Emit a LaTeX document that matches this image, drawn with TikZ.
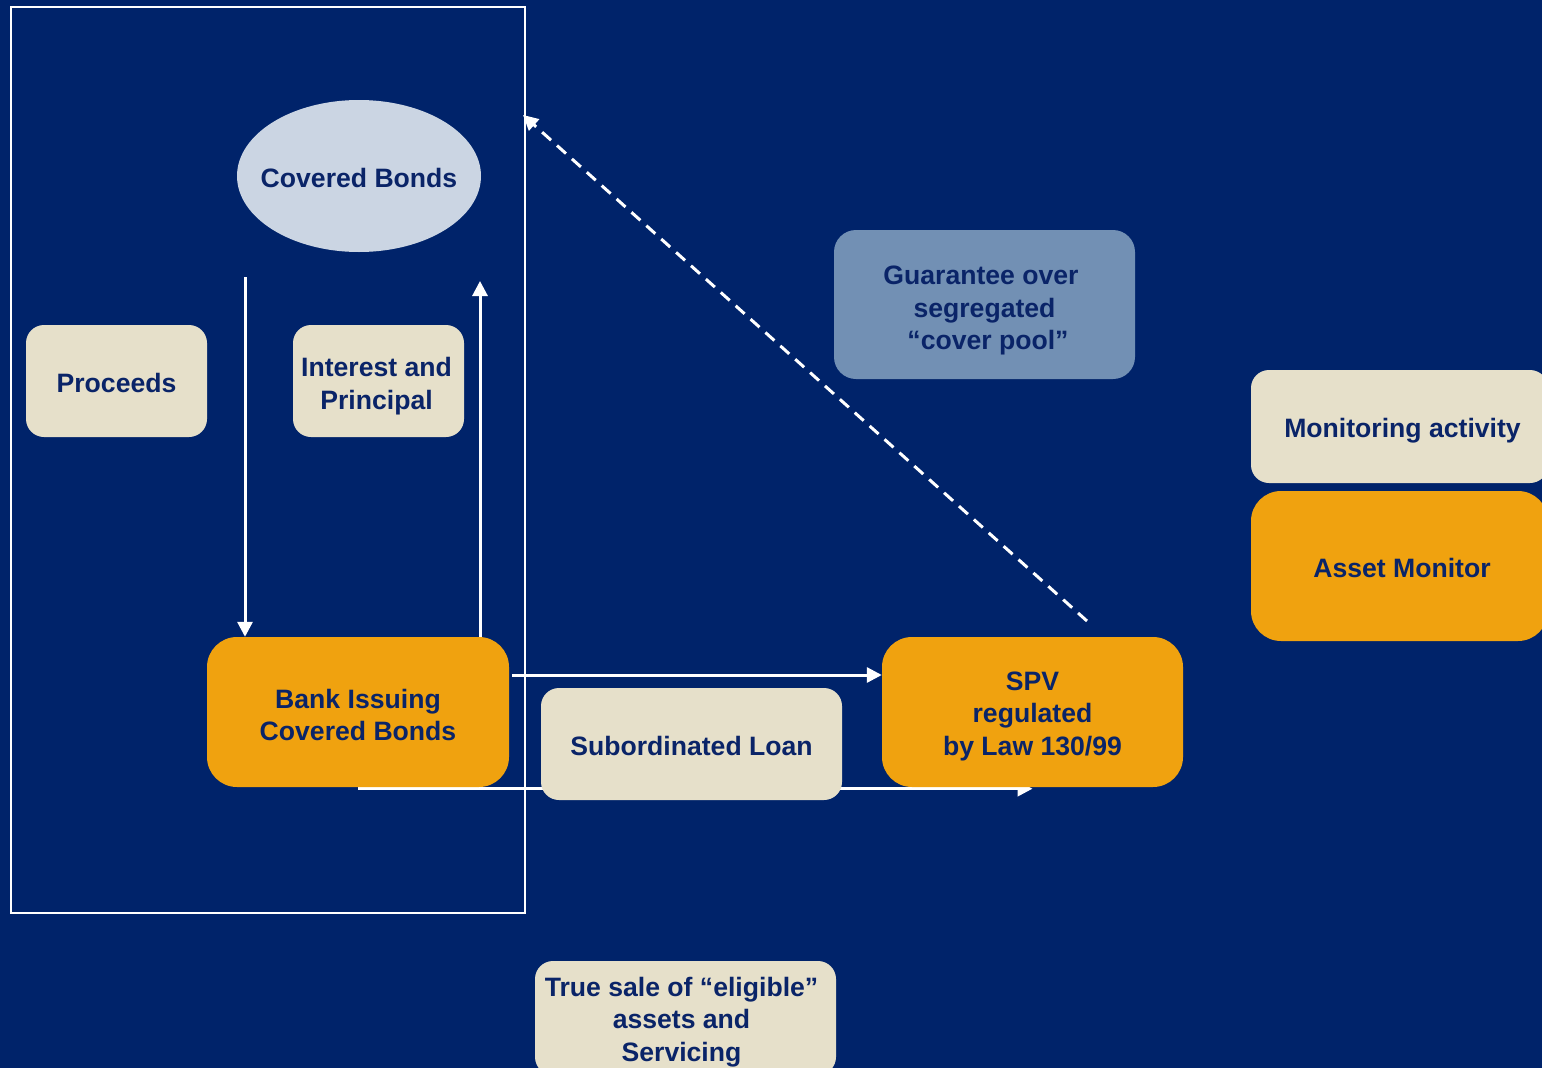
\documentclass[tikz,border=0pt]{standalone}
\usepackage{fontspec}
\setmainfont{Liberation Sans}
\usetikzlibrary{shapes.geometric,arrows.meta}
\definecolor{bgnavy}{HTML}{00236A}
\definecolor{txtnavy}{HTML}{0A2468}
\definecolor{beige}{HTML}{E6E0CA}
\definecolor{orng}{HTML}{F0A20F}
\definecolor{pale}{HTML}{CBD5E3}
\definecolor{steel}{HTML}{7290B4}
\pgfdeclarelayer{behind}
\pgfsetlayers{behind,main}
\tikzset{
  lbl/.style={font=\fontsize{26.6}{32.5}\selectfont\bfseries, text=txtnavy, align=center, inner sep=0pt},
  beigebox/.style={fill=beige, rounded corners=18pt, inner sep=0pt},
  orangebox/.style={fill=orng, rounded corners=30pt, inner sep=0pt},
  steelbox/.style={fill=steel, rounded corners=22pt, inner sep=0pt},
  arr/.style={draw=white, line width=3pt, -{Triangle[length=15pt,width=15pt]}},
  dasharr/.style={arr, dash pattern=on 12pt off 8pt},
  frame/.style={draw=white, line width=2pt}
}
\begin{document}
\begin{tikzpicture}[x=1pt,y=-1pt]
\begin{pgfonlayer}{behind}
\fill[bgnavy] (0,0) rectangle (1542,1068);
\end{pgfonlayer}
\useasboundingbox (0,0) rectangle (1542,1068);
\draw[frame] (11,7) rectangle (525,913);

% shapes
\node[ellipse, fill=pale, inner sep=0pt, minimum width=244pt, minimum height=152pt] (ell) at (359,176) {};
\node[beigebox, minimum width=181pt, minimum height=112pt] (proc) at (116.5,381) {};
\node[beigebox, minimum width=171pt, minimum height=112pt] (intp) at (378.5,381) {};
\node[orangebox, minimum width=302pt, minimum height=150pt] (bank) at (358,712) {};
\node[orangebox, minimum width=301pt, minimum height=150pt] (spv) at (1032.5,712) {};
\node[beigebox, minimum width=301pt, minimum height=112pt] (sub) at (691.5,744) {};
\node[steelbox, minimum width=301pt, minimum height=149pt] (guar) at (984.5,304.5) {};
\node[beigebox, minimum width=297pt, minimum height=113pt] (mon) at (1399.5,426.5) {};
\node[orangebox, minimum width=297pt, minimum height=150pt] (asset) at (1399.5,566) {};
\node[beigebox, minimum width=301pt, minimum height=114pt] (tsale) at (685.5,1018) {};

% texts
\node[lbl] (ell-t) at ([yshift=-2pt]ell.center) {Covered Bonds};
\node[lbl] (proc-t) at ([yshift=-2pt]proc.center) {Proceeds};
\node[lbl] (intp-t) at ([xshift=-2pt,yshift=-5pt]intp.center) {Interest and\\Principal};
\node[lbl] (bank-t) at ([yshift=-3pt]bank.center) {Bank Issuing\\Covered Bonds};
\node[lbl] (spv-t) at ([yshift=-4pt]spv.center) {SPV\\regulated\\by Law 130/99};
\node[lbl] (sub-t) at ([yshift=-2pt]sub.center) {Subordinated Loan};
\node[lbl] (guar-t) at ([yshift=-6pt]guar.center) {Guarantee over\kern7pt\\segregated\\\mbox{}\kern7pt\char"201C cover pool\char"201D};
\node[lbl] (mon-t) at ([xshift=3pt,yshift=-4pt]mon.center) {Monitoring activity};
\node[lbl] (asset-t) at ([xshift=2.5pt,yshift=-2pt]asset.center) {Asset Monitor};
\node[lbl] (tsale-t) at ([xshift=-4pt,yshift=-4pt]tsale.center) {True sale of \char"201C eligible\char"201D\\assets and\\Servicing};

% connectors
\begin{pgfonlayer}{behind}
\draw[arr] ([yshift=-1.5pt]bank.south) -- ([yshift=-1.5pt]spv.south);
\end{pgfonlayer}

\coordinate (d1) at (245,277);
\draw[arr] (d1) -- (d1 |- bank.north);
\coordinate (u1) at (480,281);
\draw[arr] (u1 |- bank.north) -- (u1);
\coordinate (h1) at (512,675);
\draw[arr] (h1) -- (h1 -| spv.west);
\coordinate (g0) at (1087,621);
\coordinate (g1) at (523,115);
\draw[dasharr] (g0) -- (g1);
\end{tikzpicture}
\end{document}
